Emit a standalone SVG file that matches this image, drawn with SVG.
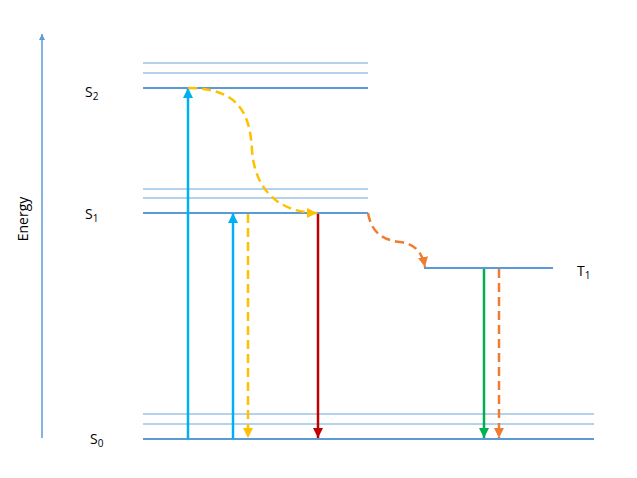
<svg xmlns="http://www.w3.org/2000/svg" width="637" height="478" viewBox="0 0 637 478">
<style>
text{font-family:"Open Sans","Liberation Sans",sans-serif;font-size:14px;fill:#000}
.sub{font-size:10px}
.lv{stroke:#5b9bd5;stroke-width:2;fill:none}
.vb{stroke:#9dc3e6;stroke-width:1.5;fill:none}
.c{fill:none;stroke-width:2.5}
.d{stroke-dasharray:9,5}
</style>
<defs>
<marker id="mBlue" viewBox="0 0 10 10" refX="10" refY="5" markerWidth="4" markerHeight="4" orient="auto"><path d="M0,0L10,5L0,10z" fill="#00b0f0"/></marker>
<marker id="mAxis" viewBox="0 0 10 10" refX="10" refY="5" markerWidth="4" markerHeight="4" orient="auto"><path d="M0,0L10,5L0,10z" fill="#5b9bd5"/></marker>
<marker id="mYel" viewBox="0 0 10 10" refX="10" refY="5" markerWidth="4" markerHeight="4" orient="auto"><path d="M0,0L10,5L0,10z" fill="#ffc000"/></marker>
<marker id="mRed" viewBox="0 0 10 10" refX="10" refY="5" markerWidth="4" markerHeight="4" orient="auto"><path d="M0,0L10,5L0,10z" fill="#c00000"/></marker>
<marker id="mGrn" viewBox="0 0 10 10" refX="10" refY="5" markerWidth="4" markerHeight="4" orient="auto"><path d="M0,0L10,5L0,10z" fill="#00b050"/></marker>
<marker id="mOr" viewBox="0 0 10 10" refX="10" refY="5" markerWidth="4" markerHeight="4" orient="auto"><path d="M0,0L10,5L0,10z" fill="#ed7d31"/></marker>
</defs>
<g id="axis">
<line x1="42" y1="438" x2="42" y2="34" stroke="#5b9bd5" stroke-width="1.5" marker-end="url(#mAxis)"/>
<text transform="translate(28,219) rotate(-90)" text-anchor="middle">Energy</text>
</g>
<g id="S2">
<line class="vb" x1="143" y1="63" x2="368" y2="63"/>
<line class="vb" x1="143" y1="73" x2="368" y2="73"/>
<line class="lv" x1="143" y1="88" x2="368" y2="88"/>
<text x="85" y="97">S<tspan class="sub" dy="3">2</tspan></text>
</g>
<g id="S1">
<line class="vb" x1="143" y1="189" x2="368" y2="189"/>
<line class="vb" x1="143" y1="198" x2="368" y2="198"/>
<line class="lv" x1="143" y1="213" x2="368" y2="213"/>
<text x="85" y="219">S<tspan class="sub" dy="3">1</tspan></text>
</g>
<g id="T1">
<line class="lv" x1="424" y1="268" x2="553" y2="268"/>
<text x="577" y="276">T<tspan class="sub" dy="3">1</tspan></text>
</g>
<g id="S0">
<line class="vb" x1="143" y1="414" x2="594" y2="414"/>
<line class="vb" x1="143" y1="424" x2="594" y2="424"/>
<line class="lv" x1="143" y1="439" x2="594" y2="439"/>
<text x="90" y="444">S<tspan class="sub" dy="3">0</tspan></text>
</g>
<g id="connectors">
<line class="c" x1="188" y1="439" x2="188" y2="88" stroke="#00b0f0" marker-end="url(#mBlue)"/>
<line class="c" x1="233" y1="439" x2="233" y2="213" stroke="#00b0f0" marker-end="url(#mBlue)"/>
<line class="c d" x1="248" y1="214" x2="248" y2="438" stroke="#ffc000" marker-end="url(#mYel)"/>
<path class="c d" d="M188,88 C240,88 250,115 252,150 C255,195 285,213 317,213" stroke="#ffc000" marker-end="url(#mYel)"/>
<line class="c" x1="318" y1="214" x2="318" y2="438" stroke="#c00000" marker-end="url(#mRed)"/>
<path class="c d" d="M368,213 C372,235 385,240 400,242 C415,244 422,252 425,267" stroke="#ed7d31" marker-end="url(#mOr)"/>
<line class="c" x1="484" y1="269" x2="484" y2="438" stroke="#00b050" marker-end="url(#mGrn)"/>
<line class="c d" x1="499" y1="269" x2="499" y2="438" stroke="#ed7d31" marker-end="url(#mOr)"/>
</g>
</svg>
